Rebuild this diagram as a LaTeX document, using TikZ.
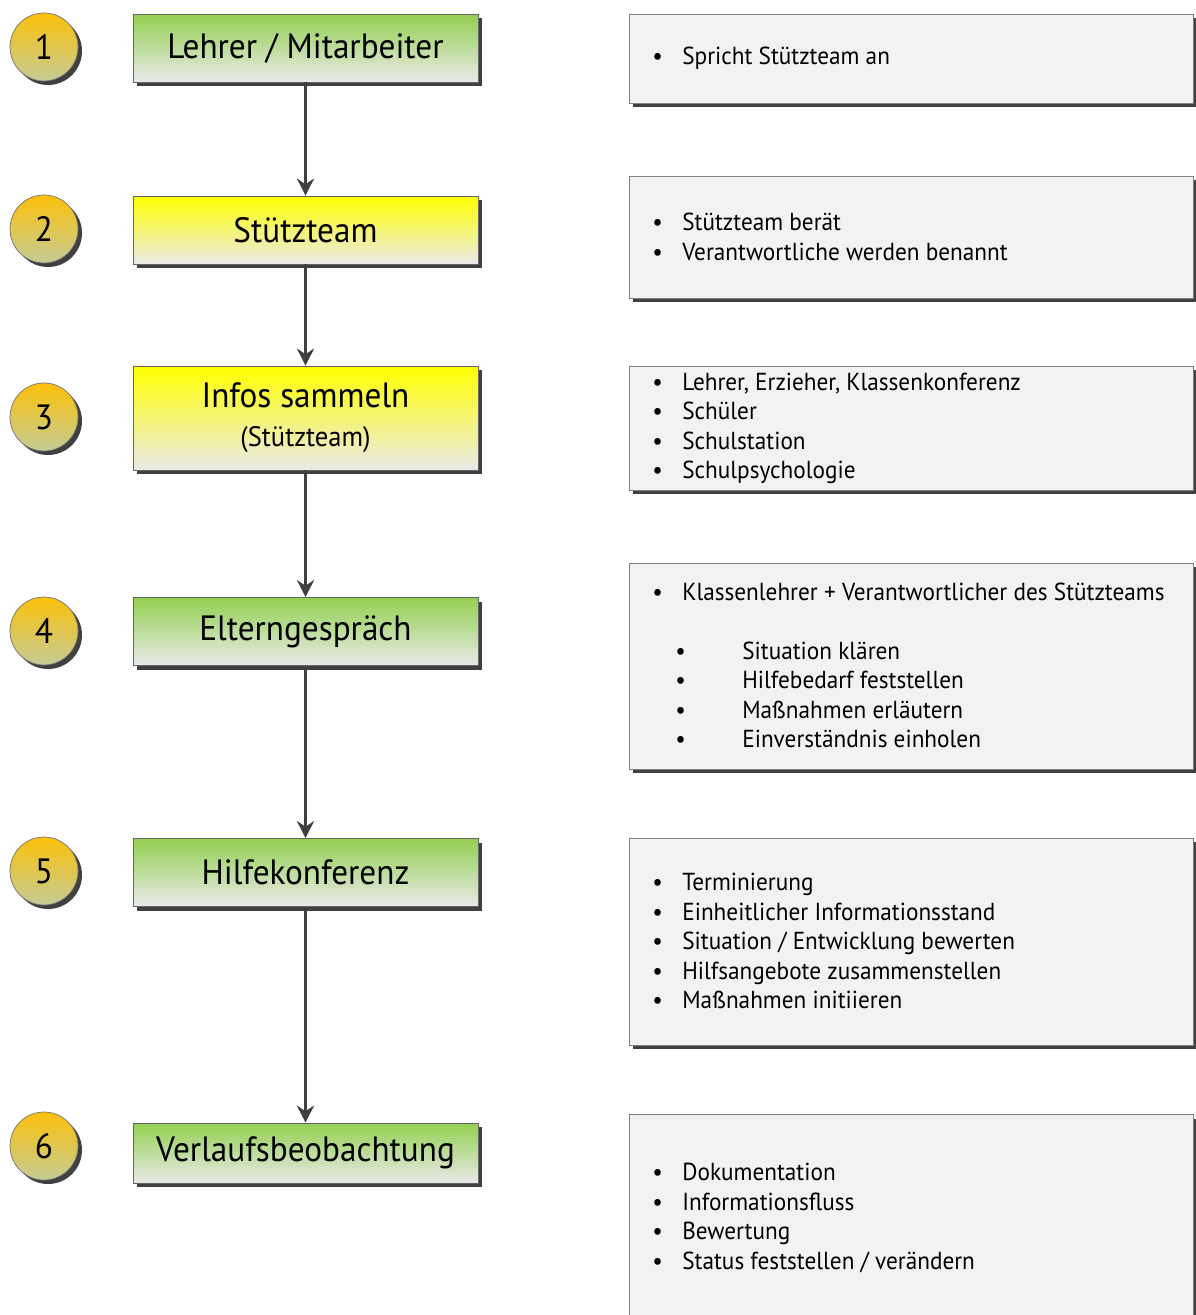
\documentclass[tikz,border=0pt]{standalone}
\usepackage{fontspec}
\setmainfont[FakeStretch=0.945]{PT Sans}
\usetikzlibrary{arrows.meta,shadows}

\definecolor{stepgreen}{RGB}{146,208,80}
\definecolor{stepyellow}{RGB}{255,255,0}
\definecolor{stepwhite}{RGB}{234,234,234}
\definecolor{numtop}{RGB}{252,192,10}
\definecolor{numbot}{RGB}{196,204,150}
\definecolor{notefill}{RGB}{242,242,242}
\definecolor{arrowgray}{RGB}{64,64,64}

\newcommand{\bul}[1]{\makebox[0.6cm][l]{\textbullet}#1}
\newcommand{\subbul}[1]{\hspace*{0.46cm}\makebox[1.34cm][l]{\textbullet}#1}

\tikzset{
  boxshadow/.style={general shadow={fill=black!75, shadow xshift=0.08cm, shadow yshift=-0.08cm}},
  stepbox/.style={draw=black!60, boxshadow, minimum width=6.9cm, minimum height=1.36cm,
    font=\fontsize{20}{24}\selectfont, align=center, inner sep=0pt},
  greenbox/.style={stepbox, top color=stepgreen, bottom color=stepwhite},
  yellowbox/.style={stepbox, top color=stepyellow, bottom color=stepwhite},
  numdot/.style={circle, draw=black!55, boxshadow, minimum size=1.36cm, inner sep=0pt,
    top color=numtop, bottom color=numbot, font=\fontsize{20}{24}\selectfont},
  notebox/.style={draw=black!50, fill=notefill, boxshadow, minimum width=11.28cm, inner sep=0pt},
  notetext/.style={anchor=west, align=left, inner sep=0pt, font=\fontsize{14}{16.8}\selectfont},
  flow/.style={draw=arrowgray, line width=1.4pt, -{Stealth[length=0.34cm,width=0.34cm]}}
}

\begin{document}
\begin{tikzpicture}[x=0.02cm, y=-0.02cm]
  \useasboundingbox (0,0) rectangle (1196,1315);

  % numbers
  \node[numdot] (n1) at (44,47) {1};
  \node[numdot] (n2) at (44,229) {2};
  \node[numdot] (n3) at (44,417) {3};
  \node[numdot] (n4) at (44,631) {4};
  \node[numdot] (n5) at (44,871) {5};
  \node[numdot] (n6) at (44,1146) {6};

  % steps
  \node[greenbox] (lehrer) at (305.5,48) {Lehrer / Mitarbeiter};
  \node[yellowbox] (team) at (305.5,230) {Stützteam};
  \node[yellowbox, minimum height=2.08cm] (infos) at (305.5,418)
    {Infos sammeln\\[-2pt]{\fontsize{16}{19}\selectfont(Stützteam)}};
  \node[greenbox] (eltern) at (305.5,631.5) {Elterngespräch};
  \node[greenbox] (hilfe) at (305.5,872.5) {Hilfekonferenz};
  \node[greenbox, minimum height=1.2cm] (verlauf) at (305.5,1153) {Verlaufsbeobachtung};

  \draw[flow] (lehrer) -- (team);
  \draw[flow] (team) -- (infos);
  \draw[flow] (infos) -- (eltern);
  \draw[flow] (eltern) -- (hilfe);
  \draw[flow] (hilfe) -- (verlauf);

  % notes
  \node[notebox, minimum height=1.78cm] (note1) at (911,58.5) {};
  \node[notebox, minimum height=2.44cm] (note2) at (911,237) {};
  \node[notebox, minimum height=2.48cm] (note3) at (911,428) {};
  \node[notebox, minimum height=4.12cm] (note4) at (911,666) {};
  \node[notebox, minimum height=4.14cm] (note5) at (911,941.5) {};
  \node[notebox, minimum height=4.3cm] (note6) at (911,1222) {};

  \node[notetext] (text1) at (652,58) {\bul{Spricht Stützteam an}};
  \node[notetext] (text2) at (652,237) {\bul{Stützteam berät}\\\bul{Verantwortliche werden benannt}};
  \node[notetext] (text3) at (652,428.5) {\bul{Lehrer, Erzieher, Klassenkonferenz}\\\bul{Schüler}\\
    \bul{Schulstation}\\\bul{Schulpsychologie}};
  \node[notetext] (text4) at (652,665.5) {\bul{Klassenlehrer + Verantwortlicher des Stützteams}\\[16.8pt]
    \subbul{Situation klären}\\\subbul{Hilfebedarf feststellen}\\
    \subbul{Maßnahmen erläutern}\\\subbul{Einverständnis einholen}};
  \node[notetext] (text5) at (652,941) {\bul{Terminierung}\\\bul{Einheitlicher Informationsstand}\\
    \bul{Situation / Entwicklung bewerten}\\\bul{Hilfsangebote zusammenstellen}\\\bul{Maßnahmen initiieren}};
  \node[notetext] (text6) at (652,1218) {\bul{Dokumentation}\\\bul{Informationsfluss}\\
    \bul{Bewertung}\\\bul{Status feststellen / verändern}};
\end{tikzpicture}
\end{document}
